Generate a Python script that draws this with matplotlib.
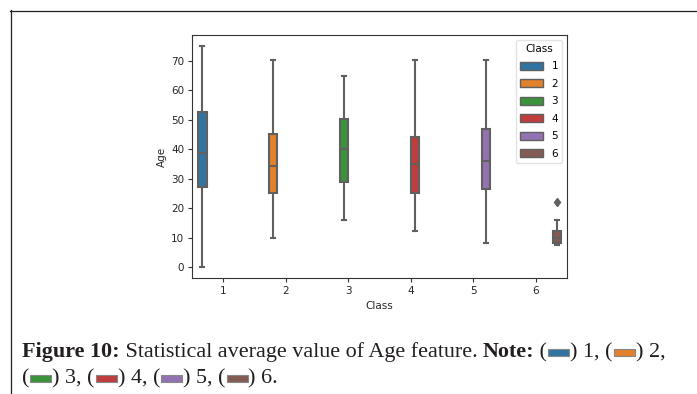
import matplotlib
matplotlib.use("Agg")
import matplotlib.pyplot as plt
from matplotlib.patches import Patch, Rectangle
from matplotlib.lines import Line2D

# ---- data ----
classes = [1, 2, 3, 4, 5, 6]
whislo = [0, 10, 16, 12.2, 8, 7.3]
q1 = [27.0, 25.1, 28.7, 25.1, 26.4, 8.1]
med = [38.8, 34.2, 40.2, 34.9, 36.1, 9.7]
q3 = [52.5, 45.2, 50.2, 44.1, 46.8, 12.3]
whishi = [75, 70.3, 65, 70.3, 70.3, 16.0]
fliers = [[], [], [], [], [], [21.9]]
colors = ["#3274a1", "#e1812c", "#3a923a", "#c03d3e", "#9372b2", "#845b53"]
gray = "#606060"

W, H = 697, 394
fig = plt.figure(figsize=(W / 100, H / 100), dpi=100)
ax = fig.add_axes([192 / W, 1 - 278 / H, 375 / W, 243 / H])

n = len(classes)
width = 0.8 / n
stats = []
positions = []
for i in range(n):
    stats.append(dict(whislo=whislo[i], q1=q1[i], med=med[i], q3=q3[i],
                      whishi=whishi[i], fliers=fliers[i], label=str(classes[i])))
    positions.append(i - 0.4 + width / 2 + i * width)

lw = 1.5
bp = ax.bxp(stats, positions=positions, widths=width * 0.98, patch_artist=True,
            manage_ticks=False,
            boxprops=dict(edgecolor=gray, linewidth=lw),
            whiskerprops=dict(color=gray, linewidth=lw),
            capprops=dict(color=gray, linewidth=lw),
            medianprops=dict(color=gray, linewidth=lw),
            flierprops=dict(marker="d", markerfacecolor=gray, markeredgecolor=gray,
                            markersize=4.5, linestyle="none"))
for patch, c in zip(bp["boxes"], colors):
    patch.set_facecolor(c)

ax.set_xlim(-0.5, n - 0.5)
ax.set_ylim(-3.75, 78.75)
ax.set_xticks(range(n))
ax.set_xticklabels([str(c) for c in classes])
ax.set_yticks(range(0, 71, 10))
ax.tick_params(labelsize=7.5, length=3, width=0.8, color="#333333", labelcolor="#262626", pad=2.5)
for s in ax.spines.values():
    s.set_color("#333333")
    s.set_linewidth(0.8)
ax.set_xlabel("Class", fontsize=7.5, color="#262626", labelpad=4)
ax.set_ylabel("Age", fontsize=7.5, color="#262626", labelpad=3)

handles = [Patch(facecolor=c, edgecolor=gray, linewidth=1.0, label=str(k))
           for c, k in zip(colors, classes)]
leg = ax.legend(handles=handles, title="Class", loc="upper right", fontsize=7.5,
                title_fontsize=7.5, handlelength=2.2, handleheight=0.75,
                labelspacing=0.72, borderaxespad=0.45, frameon=True)
leg.get_frame().set_edgecolor("#dddddd")

# ---- border ----
fig.add_artist(Line2D([10 / W, 1], [1 - 10.5 / H, 1 - 10.5 / H], color="#222222", linewidth=0.9))
fig.add_artist(Line2D([10.5 / W, 10.5 / W], [0, 1 - 10 / H], color="#222222", linewidth=0.9))

# ---- caption ----
renderer = fig.canvas.get_renderer()
cap_font = dict(family="Liberation Serif", fontsize=15.9, color="#231f20")


def put_text(x, yb, s, bold=False):
    t = fig.text(x / W, 1 - yb / H, s, va="baseline", ha="left",
                 fontweight="bold" if bold else "normal", **cap_font)
    bb = t.get_window_extent(renderer)
    return x + bb.width


def put_swatch(x, yb, c):
    w, h = 21, 7.5
    r = Rectangle(((x + 1) / W, 1 - (yb - 1) / H), w / W, h / H, transform=fig.transFigure,
                  facecolor=c, edgecolor="#888888", linewidth=0.8)
    fig.add_artist(r)
    return x + w + 2


lines = [
    [("Figure 10:", True), (" Statistical average value of Age feature. ", False),
     ("Note:", True), (" (", False), 0, (") 1, (", False), 1, (") 2,", False)],
    [("(", False), 2, (") 3, (", False), 3, (") 4, (", False), 4, (") 5, (", False), 5,
     (") 6.", False)],
]
baselines = [357, 383]
for items, yb in zip(lines, baselines):
    x = 22
    for it in items:
        if isinstance(it, int):
            x = put_swatch(x, yb, colors[it])
        else:
            x = put_text(x, yb, it[0], it[1])

fig.savefig("out.png", dpi=100)
